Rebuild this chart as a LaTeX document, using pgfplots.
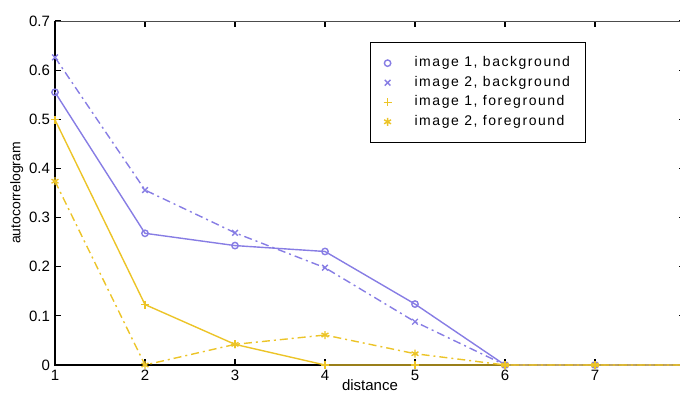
\documentclass[border=0pt]{standalone}
\usepackage{pgfplots}
\pgfplotsset{compat=1.18}
\usepackage{fontspec}
\setmainfont{Liberation Sans}
\newfontfamily\legfont[LetterSpace=11]{Liberation Sans}
\definecolor{bgc}{RGB}{135,125,228}
\definecolor{fgc}{RGB}{236,196,40}
\newcommand{\legtext}[1]{\makebox[77pt][l]{#1}}
\begin{document}
\begin{tikzpicture}
\useasboundingbox (0,0) rectangle (340pt,196pt);
\clip (0,0) rectangle (340pt,196pt);
\begin{axis}[
  at={(27.5pt,13.5pt)}, anchor=south west,
  scale only axis, width=315pt, height=172pt,
  xmin=1, xmax=8, ymin=0, ymax=0.7,
  xtick={1,...,8},
  ytick={0,0.1,...,0.7},
  /pgf/number format/fixed,
  /pgf/number format/precision=1,
  /pgf/number format/assume math mode=true,
  tick align=inside,
  major tick length=3pt,
  tick style={black, line width=0.6pt},
  axis line style={black!70, line width=0.5pt},
  font=\fontsize{7.5}{9}\selectfont,
  ticklabel style={font=\fontsize{7.5}{9}\selectfont},
  xticklabel style={yshift=1pt},
  yticklabel style={xshift=1pt},
  xlabel={distance},
  xlabel style={yshift=7.5pt},
  ylabel={autocorrelogram},
  ylabel style={yshift=-4pt, font=\fontsize{7}{8}\selectfont},
  legend style={at={(0.5,0.939)}, anchor=north west, draw=black, line width=0.6pt,
    font=\legfont\fontsize{7}{8}\selectfont, inner xsep=6.5pt, inner ysep=5pt,
    column sep=9.5pt, row sep=-0.8pt, cells={anchor=west}},
  legend cell align=left,
  every axis plot/.append style={line width=0.7pt},
  clip=false,
]
\draw[black, line width=1.1pt] (rel axis cs:0,1) -- (rel axis cs:0,0) -- (rel axis cs:1,0);
\addplot[forget plot, color=bgc, mark=o, mark size=1.6pt, mark options={solid}]
  coordinates {(1,0.555) (2,0.268) (3,0.243) (4,0.231) (5,0.124) (6,0) (7,0) (8,0)};
\addplot[forget plot, color=bgc, mark=x, mark size=2pt, mark options={solid}, dash pattern=on 4pt off 2pt on 1pt off 2pt]
  coordinates {(1,0.626) (2,0.356) (3,0.269) (4,0.198) (5,0.088) (6,0) (7,0) (8,0)};
\addplot[forget plot, color=fgc, mark=+, mark size=2pt, mark options={solid}]
  coordinates {(1,0.499) (2,0.123) (3,0.042) (4,0) (5,0) (6,0) (7,0) (8,0)};
\addplot[forget plot, color=fgc, mark=asterisk, mark size=2pt, mark options={solid}, dash pattern=on 4pt off 2pt on 1pt off 2pt]
  coordinates {(1,0.374) (2,0) (3,0.042) (4,0.061) (5,0.023) (6,0) (7,0) (8,0)};
\addlegendimage{only marks, color=bgc, mark=o, mark size=1.6pt, line width=0.7pt}
\addlegendentry{\legtext{image 1, background}}
\addlegendimage{only marks, color=bgc, mark=x, mark size=2pt, line width=0.7pt}
\addlegendentry{\legtext{image 2, background}}
\addlegendimage{only marks, color=fgc, mark=+, mark size=2pt, line width=0.7pt}
\addlegendentry{\legtext{image 1, foreground}}
\addlegendimage{only marks, color=fgc, mark=asterisk, mark size=2pt, line width=0.7pt}
\addlegendentry{\legtext{image 2, foreground}}
\end{axis}
\end{tikzpicture}
\end{document}
